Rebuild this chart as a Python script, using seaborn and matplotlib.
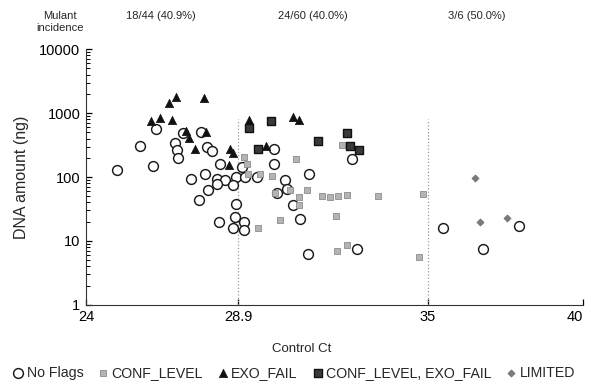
import matplotlib
matplotlib.use("Agg")
import matplotlib.pyplot as plt
from matplotlib.ticker import FixedLocator, NullFormatter
import seaborn as sns
import pandas as pd

# Values (Control Ct vs DNA amount in ng)
no_flags_ct = [24.99, 25.74, 26.15, 26.25, 26.88, 26.92, 26.97, 27.13, 27.70, 27.38,
               27.89, 28.05, 27.83, 28.21, 28.31, 28.48, 28.83, 27.94, 28.21, 28.74,
               27.65, 28.83, 28.80, 28.27, 28.72, 29.09, 29.09, 29.01, 29.12, 29.50,
               30.06, 30.06, 30.41, 31.18, 30.67, 30.89, 31.16, 32.73, 32.55, 35.48,
               37.93, 36.77, 30.14, 30.48]
no_flags_dna = [128, 305, 151, 558, 344, 264, 202, 483, 513, 94,
                298, 255, 110, 94, 159, 89, 100, 63, 77, 74,
                44, 38, 24, 20, 16, 20, 15, 144, 100, 100,
                270, 162, 89, 113, 36, 22, 6.3, 7.4, 194, 15.8,
                17.3, 7.6, 56, 65]

conf_ct = [30.75, 29.23, 29.60, 29.98, 30.09, 30.57, 31.11, 30.86, 30.87, 31.59,
           31.86, 32.12, 32.41, 29.55, 30.25, 32.05, 32.09, 32.41, 32.23, 33.41,
           34.84, 34.73, 29.09, 29.17]
conf_dna = [190, 113, 113, 103, 56, 62, 62, 48, 36, 51,
            48, 51, 53, 15.7, 21, 25, 7.0, 8.5, 316, 50,
            55, 5.6, 207, 162]

exo_ct = [26.89, 26.68, 27.80, 26.09, 26.38, 26.77, 27.21, 27.31, 27.87, 27.50,
          28.64, 28.72, 28.61, 29.26, 30.65, 30.86, 29.80]
exo_dna = [1786, 1435, 1722, 757, 824, 774, 527, 402, 513, 270,
           270, 239, 153, 766, 854, 785, 305]

both_ct = [29.26, 29.96, 31.48, 29.53, 32.41, 32.50, 32.80]
both_dna = [579, 757, 366, 270, 483, 305, 264]

limited_ct = [36.53, 36.69, 37.56]
limited_dna = [97, 20, 23]

x_ticks = [24, 28.9, 35, 40]
y_ticks = [1, 10, 100, 1000, 10000]
cutoffs = [28.9, 35]
incidence_labels = ["18/44 (40.9%)", "24/60 (40.0%)", "3/6 (50.0%)"]


def build_frame():
    """Stack the per-flag arrays into one long table."""
    parts = [
        ("No Flags", no_flags_ct, no_flags_dna),
        ("CONF_LEVEL", conf_ct, conf_dna),
        ("EXO_FAIL", exo_ct, exo_dna),
        ("CONF_LEVEL, EXO_FAIL", both_ct, both_dna),
        ("LIMITED", limited_ct, limited_dna),
    ]
    frames = [pd.DataFrame({"ct": ct, "dna": dna, "flag": name}) for name, ct, dna in parts]
    return pd.concat(frames, ignore_index=True)


STYLES = {
    "No Flags": dict(marker="o", s=50, facecolor="white", edgecolor="#1a1a1a", linewidth=1.05),
    "CONF_LEVEL": dict(marker="s", s=22, facecolor="#b4b4b4", edgecolor="#8c8c8c", linewidth=0.6),
    "EXO_FAIL": dict(marker="^", s=36, facecolor="#111111", edgecolor="#111111", linewidth=0.5),
    "CONF_LEVEL, EXO_FAIL": dict(marker="s", s=38, facecolor="#3a3a3a", edgecolor="#111111", linewidth=1.0),
    "LIMITED": dict(marker="D", s=13, facecolor="#7a7a7a", edgecolor="#6a6a6a", linewidth=0.5),
}


def plot_chart(df):
    sns.set_style("ticks")
    plt.rcParams["font.family"] = ["Liberation Sans", "DejaVu Sans"]
    plt.rcParams.update({
        "xtick.direction": "in", "ytick.direction": "in",
        "ytick.minor.visible": True, "ytick.minor.size": 3, "ytick.minor.width": 0.7,
        "ytick.major.size": 4.5, "xtick.major.size": 4.5,
        "xtick.color": "black", "ytick.color": "black",
    })

    fig = plt.figure(figsize=(5.89, 3.84), dpi=100)
    ax = fig.add_axes([0.146, 0.206, 0.844, 0.666])

    for flag, style in STYLES.items():
        sub = df[df["flag"] == flag]
        sns.scatterplot(data=sub, x="ct", y="dna", ax=ax, label=flag, zorder=3, **style)

    ax.set_yscale("log")
    ax.set_xlim(24, 40)
    ax.set_ylim(1, 10000)

    ax.vlines(cutoffs, 1, 800, colors="#9a9a9a", linestyles=":", linewidth=0.9, zorder=1)

    ax.set_xticks(x_ticks)
    ax.set_xticklabels([f"{t:g}" for t in x_ticks])
    ax.xaxis.get_ticklabels()[-1].set_horizontalalignment("right")
    ax.set_yticks(y_ticks)
    ax.set_yticklabels([str(t) for t in y_ticks])
    minor = [k * 10 ** d for d in range(4) for k in range(2, 10)]
    ax.yaxis.set_minor_locator(FixedLocator(minor))
    ax.yaxis.set_minor_formatter(NullFormatter())
    ax.tick_params(axis="both", which="major", direction="in", labelsize=10.5,
                   length=4.5, width=0.9, pad=4, color="black")
    ax.tick_params(axis="y", which="minor", direction="in", length=3, width=0.7,
                   left=True, color="black")

    sns.despine(ax=ax)
    for side in ("left", "bottom"):
        ax.spines[side].set_linewidth(0.8)
        ax.spines[side].set_color("#333333")

    ax.set_xlabel("Control Ct", fontsize=9.5)
    ax.set_ylabel("DNA amount (ng)", fontsize=11.5)
    ax.xaxis.set_label_coords(0.433, -0.15)
    ax.yaxis.set_label_coords(-0.115, 0.5)

    # mutant incidence header
    fig.text(60 / 589, 1 - 22 / 384, "Mulant\nincidence", ha="center", va="center",
             fontsize=8, linespacing=1.3)
    for px, txt in zip([161, 313, 477], incidence_labels):
        fig.text(px / 589, 1 - 16 / 384, txt, ha="center", va="center", fontsize=8)

    handles, labels = ax.get_legend_handles_labels()
    if ax.legend_:
        ax.legend_.remove()
    fig.legend(handles, labels, loc="center", bbox_to_anchor=(0.5, 1 - 373 / 384), ncol=5,
               frameon=False, fontsize=10.2, handlelength=0.6, handletextpad=0.3,
               columnspacing=1.1, borderaxespad=0)

    fig.savefig("out.png", dpi=100)


if __name__ == "__main__":
    plot_chart(build_frame())
